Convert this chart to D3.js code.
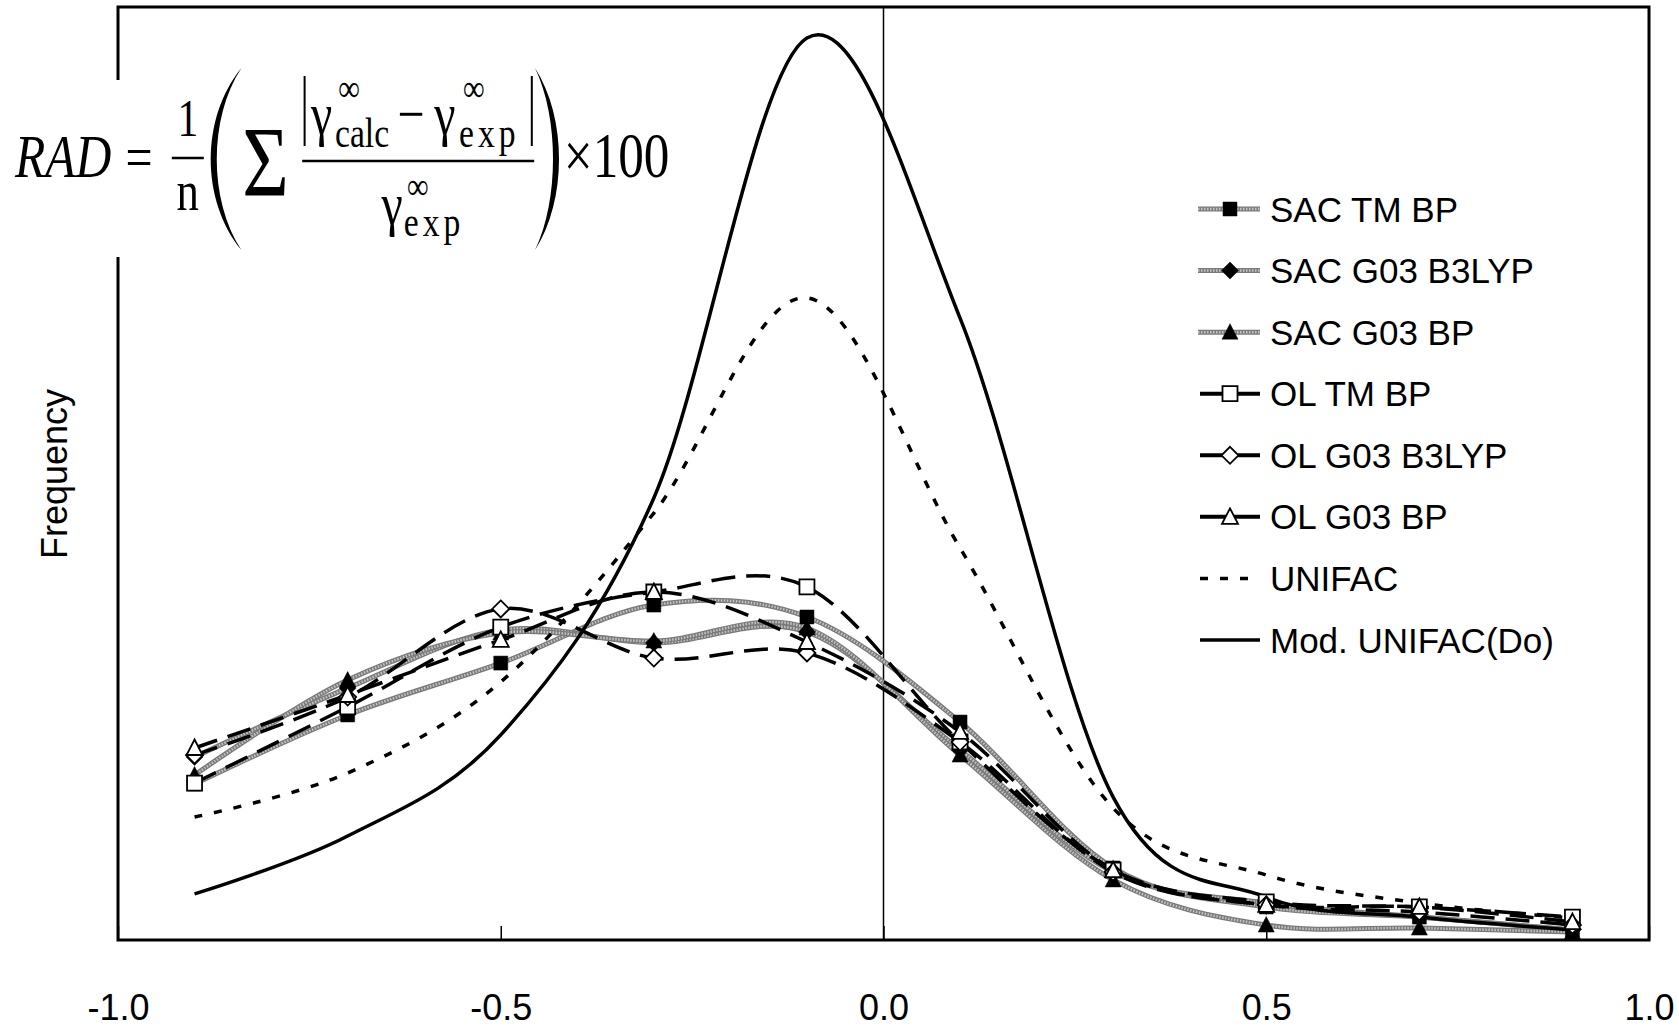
<!DOCTYPE html>
<html>
<head>
<meta charset="utf-8">
<script src="https://cdn.jsdelivr.net/npm/d3@7"></script>
<style>
  body { margin: 0; background: #fff; }
  svg { display: block; font-family: "Liberation Sans", Arial, sans-serif; }
  .eq text { font-family: "Liberation Serif", "Times New Roman", serif; }
</style>
</head>
<body>
<div id="chart-area"></div>
<script>
// RAD bins (x) and frequency of each method
var bins = [-0.9, -0.7, -0.5, -0.3, -0.1, 0.1, 0.3, 0.5, 0.7, 0.9];

var sacTmBp     = [8.36, 12.06, 14.84, 17.95, 17.31, 11.68, 3.86, 1.77, 1.23, 0.54];
var sacG03B3lyp = [9.81, 13.50, 16.61, 15.92, 16.51, 10.18, 3.64, 1.98, 1.23, 0.54];
var sacG03Bp    = [8.84, 13.93, 16.45, 16.02, 16.72, 9.91, 3.22, 0.80, 0.64, 0.43];
var olTmBp      = [8.41, 12.49, 16.77, 18.65, 18.92, 10.61, 3.75, 2.04, 1.77, 1.23];
var olG03B3lyp  = [9.91, 13.02, 17.74, 15.11, 15.38, 10.61, 3.64, 1.88, 1.50, 0.80];
var olG03Bp     = [10.29, 13.13, 16.08, 18.65, 15.97, 11.15, 3.75, 1.88, 1.77, 0.96];
var unifac      = [6.59, 8.95, 13.83, 22.88, 34.41, 21.01, 7.07, 3.48, 1.98, 1.18];
var modUnifac   = [2.47, 5.57, 10.99, 23.69, 48.34, 33.33, 7.66, 2.30, 1.23, 0.54];

var seriesNames = ["SAC TM BP", "SAC G03 B3LYP", "SAC G03 BP", "OL TM BP",
                   "OL G03 B3LYP", "OL G03 BP", "UNIFAC", "Mod. UNIFAC(Do)"];
var xTicks = [-1.0, -0.5, 0.0, 0.5, 1.0];

var series = [
  { name: seriesNames[0], values: sacTmBp,     kind: "sac", marker: "square",   filled: true },
  { name: seriesNames[1], values: sacG03B3lyp, kind: "sac", marker: "diamond",  filled: true },
  { name: seriesNames[2], values: sacG03Bp,    kind: "sac", marker: "triangle", filled: true },
  { name: seriesNames[3], values: olTmBp,      kind: "ol",  marker: "square",   filled: false },
  { name: seriesNames[4], values: olG03B3lyp,  kind: "ol",  marker: "diamond",  filled: false },
  { name: seriesNames[5], values: olG03Bp,     kind: "ol",  marker: "triangle", filled: false },
  { name: seriesNames[6], values: unifac,      kind: "dot", marker: null },
  { name: seriesNames[7], values: modUnifac,   kind: "solid", marker: null }
];

var W = 1679, H = 1029;
var plot = { left: 118, right: 1649, top: 7, bottom: 940 };

var svg = d3.select("#chart-area")
  .append("svg")
    .attr("width", W)
    .attr("height", H);

var x = d3.scaleLinear().domain([-1, 1]).range([plot.left, plot.right]);
var y = d3.scaleLinear().domain([0, 50]).range([plot.bottom, plot.top]);

var line = d3.line()
  .x(function(d) { return x(d[0]); })
  .y(function(d) { return y(d[1]); })
  .curve(d3.curveCardinal.tension(0));

function markerPath(type, filled) {
  if (type === "square") {
    var s = filled ? 7 : 7.5;
    return "M" + (-s) + "," + (-s) + "H" + s + "V" + s + "H" + (-s) + "Z";
  }
  if (type === "diamond") {
    var d = 8.5;
    return "M0," + (-d) + "L" + d + ",0L0," + d + "L" + (-d) + ",0Z";
  }
  // triangle
  return "M0,-8.5L8,7L-8,7Z";
}

function styleLine(sel, kind) {
  if (kind === "ol") {
    sel.attr("stroke", "#000").attr("stroke-width", 3.5).attr("stroke-dasharray", "24,11");
  } else if (kind === "dot") {
    sel.attr("stroke", "#000").attr("stroke-width", 3.5).attr("stroke-dasharray", "8,12");
  } else if (kind === "solid") {
    sel.attr("stroke", "#000").attr("stroke-width", 3.5);
  }
}

function greyLine(sel) {
  // textured grey band of the SAC series
  sel.append("path").attr("class", "g1")
    .attr("fill", "none").attr("stroke", "#7a7a7a").attr("stroke-width", 5);
  sel.append("path").attr("class", "g2")
    .attr("fill", "none").attr("stroke", "#c4c4c4").attr("stroke-width", 2.5)
    .attr("stroke-dasharray", "1.5,1.5");
}

// bottom axis: labels and small inner ticks
var xAxisCall = d3.axisBottom(x)
  .tickValues(xTicks)
  .tickSizeInner(-14)
  .tickSizeOuter(0)
  .tickPadding(54)
  .tickFormat(function(d) { return d3.format(".1f")(d).replace("\u2212", "-"); });

var xAxisGroup = svg.append("g")
  .attr("class", "x axis")
  .attr("transform", "translate(0," + plot.bottom + ")")
  .call(xAxisCall);
xAxisGroup.select(".domain").remove();
xAxisGroup.selectAll("line").attr("stroke", "#000").attr("stroke-width", 1.5);
xAxisGroup.selectAll("text")
  .attr("fill", "#000")
  .attr("font-size", "36px")
  .attr("font-family", "'Liberation Sans', Arial, sans-serif");

// vertical line at 0
svg.append("line")
  .attr("x1", x(0)).attr("x2", x(0))
  .attr("y1", plot.top).attr("y2", plot.bottom)
  .attr("stroke", "#000")
  .attr("stroke-width", 1.5);

// series lines
var linesG = svg.append("g").attr("class", "lines");
series.forEach(function(s) {
  if (s.kind !== "sac") return;
  var pts = bins.map(function(b, i) { return [b, s.values[i]]; });
  var g = linesG.append("g").call(greyLine);
  g.selectAll("path").datum(pts).attr("d", line);
});
series.forEach(function(s) {
  if (s.kind === "sac") return;
  var pts = bins.map(function(b, i) { return [b, s.values[i]]; });
  linesG.append("path").datum(pts).attr("d", line)
    .attr("fill", "none")
    .call(styleLine, s.kind);
});

// markers
series.forEach(function(s) {
  if (!s.marker) return;
  svg.append("g").selectAll("path")
    .data(s.values)
    .enter().append("path")
      .attr("transform", function(d, i) { return "translate(" + x(bins[i]) + "," + y(d) + ")"; })
      .attr("d", markerPath(s.marker, s.filled))
      .attr("fill", s.filled ? "#000" : "#fff")
      .attr("stroke", "#000")
      .attr("stroke-width", s.filled ? 0.5 : 1.8);
});

// frame
svg.append("rect")
  .attr("x", plot.left).attr("y", plot.top)
  .attr("width", plot.right - plot.left)
  .attr("height", plot.bottom - plot.top)
  .attr("fill", "none")
  .attr("stroke", "#000")
  .attr("stroke-width", 3);

// Y label
svg.append("text")
  .attr("transform", "translate(54,474) rotate(-90)")
  .attr("text-anchor", "middle")
  .attr("dy", "0.35em")
  .attr("font-size", "36px")
  .text("Frequency");

// legend
var legend = svg.append("g").attr("class", "legend");
var rowY = d3.scaleLinear().domain([0, 7]).range([209, 640]);
series.forEach(function(s, i) {
  var g = legend.append("g").attr("transform", "translate(0," + rowY(i) + ")");
  if (s.kind === "sac") {
    g.call(greyLine);
    g.selectAll("path").attr("d", "M1198,0H1260");
  } else if (s.kind === "ol") {
    g.append("line").attr("x1", 1200).attr("x2", 1260)
      .attr("stroke", "#000").attr("stroke-width", 4);
  } else {
    g.append("line").attr("x1", 1200).attr("x2", 1260).call(styleLine, s.kind);
  }
  if (s.marker) {
    g.append("path")
      .attr("transform", "translate(1230,0)")
      .attr("d", markerPath(s.marker, s.filled))
      .attr("fill", s.filled ? "#000" : "#fff")
      .attr("stroke", "#000")
      .attr("stroke-width", s.filled ? 0.5 : 1.8);
  }
  g.append("text")
    .attr("x", 1270)
    .attr("dy", "0.36em")
    .attr("font-size", "35px")
    .text(s.name);
});

// RAD formula (white box over the axis)
svg.append("rect")
  .attr("x", 0).attr("y", 80)
  .attr("width", 684).attr("height", 177)
  .attr("fill", "#fff");

var eq = svg.append("g")
  .attr("class", "eq")
  .attr("transform", "translate(15,0) scale(0.8,1)");

function eqText(tx, ty, size, str, italic) {
  return eq.append("text")
    .attr("x", tx).attr("y", ty)
    .attr("font-size", size + "px")
    .attr("font-style", italic ? "italic" : "normal")
    .text(str);
}

eqText(0, 177, 62, "RAD", true);
eqText(138, 177, 60, "=");
eqText(216, 136, 52, "1").attr("text-anchor", "middle");
eqText(216, 210, 56, "n").attr("text-anchor", "middle");
eq.append("line").attr("x1", 196).attr("x2", 236).attr("y1", 158).attr("y2", 158)
  .attr("stroke", "#000").attr("stroke-width", 2.5);

eq.append("path")
  .attr("d", "M283,68 C232,118 232,200 283,250 C242,200 242,118 283,68 Z");
eq.append("path")
  .attr("d", "M650,68 C690,118 690,200 650,250 C680,200 680,118 650,68 Z");

eqText(284, 195, 100, "\u03A3");

// numerator
eq.append("line").attr("x1", 362).attr("x2", 362).attr("y1", 76).attr("y2", 146)
  .attr("stroke", "#000").attr("stroke-width", 2.5);
eqText(370, 134, 60, "\u03B3");
eqText(404, 101, 38, "\u221E");
eqText(400, 147, 42, "calc");
eqText(478, 134, 60, "\u2212");
eqText(524, 134, 60, "\u03B3");
eqText(560, 101, 38, "\u221E");
eqText(555, 147, 42, "exp").attr("letter-spacing", "5px");
eq.append("line").attr("x1", 646).attr("x2", 646).attr("y1", 76).attr("y2", 146)
  .attr("stroke", "#000").attr("stroke-width", 2.5);
eq.append("line").attr("x1", 359).attr("x2", 649).attr("y1", 161).attr("y2", 161)
  .attr("stroke", "#000").attr("stroke-width", 2.5);

// denominator
eqText(458, 224, 60, "\u03B3");
eqText(490, 199, 38, "\u221E");
eqText(486, 236, 42, "exp").attr("letter-spacing", "5px");

eqText(686, 177, 64, "\u00D7100");
</script>
</body>
</html>
